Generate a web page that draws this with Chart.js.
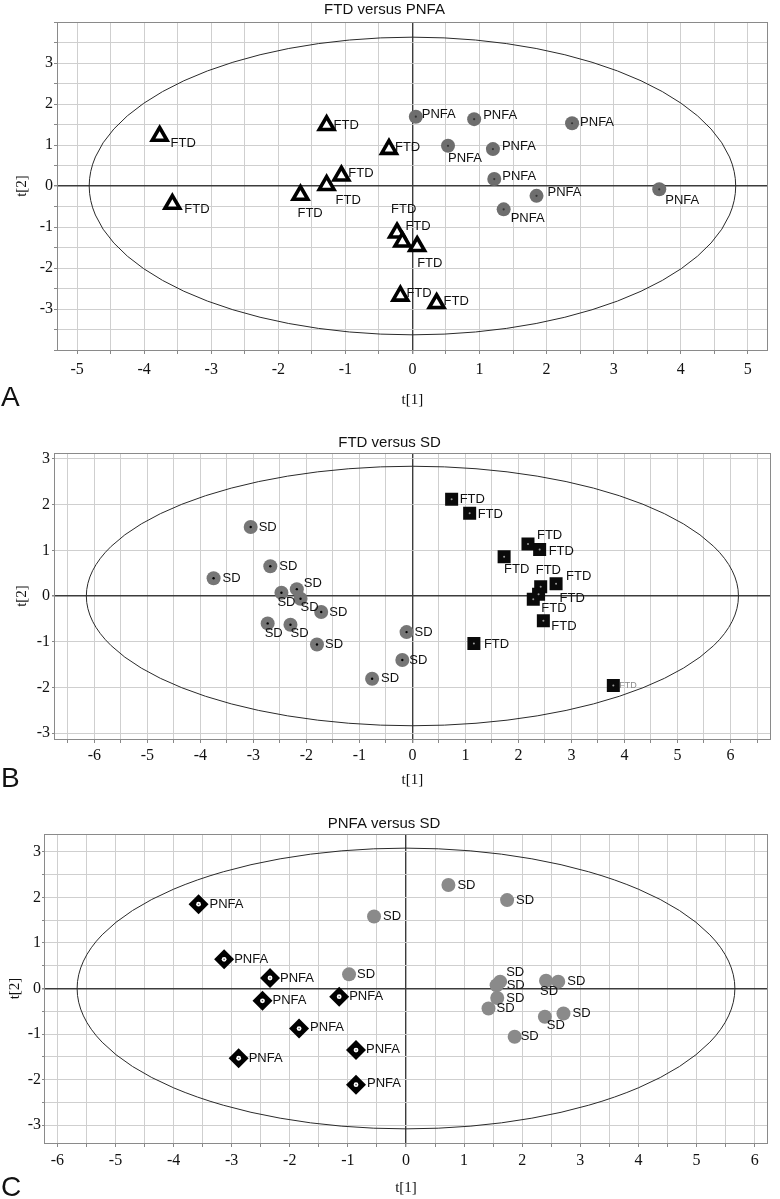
<!DOCTYPE html>
<html>
<head>
<meta charset="utf-8">
<title>FTD / PNFA / SD score plots</title>
<script src="https://cdn.jsdelivr.net/npm/chart.js@4.4.1/dist/chart.umd.min.js"></script>
<style>
  body { margin:0; background:#fff; }
  #page { position:relative; width:780px; height:1199px; overflow:hidden; }
  #page canvas { position:absolute; left:0; }
  .letter { position:absolute; left:1px; font-family:'Liberation Sans', Arial, sans-serif; font-size:28px; line-height:28px; color:#111; }
</style>
</head>
<body>
<div id="page">
  <canvas id="chartA" width="780" height="410" style="top:0px"></canvas>
  <canvas id="chartB" width="780" height="385" style="top:410px"></canvas>
  <canvas id="chartC" width="780" height="404" style="top:795px"></canvas>
  <div class="letter" style="top:383px">A</div>
  <div class="letter" style="top:764px">B</div>
  <div class="letter" style="top:1173px">C</div>
</div>
<script>
// ---- scores t[1], t[2] ----

// FTD versus PNFA
var ftdA_t1  = [-3.77, -3.58, -1.28, -1.06, -1.28, -1.67, -0.35, -0.23, -0.15, 0.07, -0.18, 0.36];
var ftdA_t2  = [1.22, -0.44, 1.48, 0.25, 0.02, -0.22, 0.90, -1.14, -1.36, -1.47, -2.68, -2.86];
var pnfaA_t1 = [0.05, 0.92, 2.38, 0.53, 1.20, 1.22, 1.85, 1.36, 3.68];
var pnfaA_t2 = [1.69, 1.63, 1.53, 0.98, 0.90, 0.17, -0.24, -0.57, -0.08];

// FTD versus SD
var sdB_t1  = [-3.05, -2.68, -3.75, -2.47, -2.18, -2.11, -1.72, -2.73, -2.30, -1.80, -0.11, -0.19, -0.76];
var sdB_t2  = [1.51, 0.65, 0.39, 0.07, 0.15, -0.06, -0.35, -0.60, -0.63, -1.06, -0.79, -1.40, -1.81];
var ftdB_t1 = [0.74, 1.08, 2.18, 2.40, 1.73, 2.71, 2.42, 2.38, 2.28, 2.47, 1.16, 3.79];
var ftdB_t2 = [2.12, 1.81, 1.14, 1.02, 0.86, 0.27, 0.20, 0.04, -0.07, -0.54, -1.04, -1.96];

// PNFA versus SD
var pnfaC_t1 = [-3.57, -3.13, -2.34, -2.47, -1.15, -1.84, -2.88, -0.86, -0.86];
var pnfaC_t2 = [1.85, 0.64, 0.23, -0.27, -0.18, -0.88, -1.53, -1.35, -2.11];
var sdC_t1   = [0.73, 1.74, -0.55, -0.98, 1.62, 1.56, 1.57, 1.42, 2.41, 2.62, 2.71, 2.39, 1.87];
var sdC_t2   = [2.27, 1.94, 1.58, 0.31, 0.15, 0.07, -0.21, -0.44, 0.17, 0.15, -0.55, -0.62, -1.06];

// tick labels
var xTicksA  = [-5, -4, -3, -2, -1, 0, 1, 2, 3, 4, 5];
var xTicksBC = [-6, -5, -4, -3, -2, -1, 0, 1, 2, 3, 4, 5, 6];
var yTicks   = [-3, -2, -1, 0, 1, 2, 3];

// Hotelling ellipse half axes [t1, t2]
var ellipseA = [4.82, 3.63];
var ellipseB = [6.15, 2.84];
var ellipseC = [5.66, 3.08];

// label placement next to each marker, [dx, dy] px
var ftdShiftA  = [[11,7],[12,5],[7,0],[7,-2],[9,15],[-3,18],[6,-2],[-6,-23],[3,-15],[0,17],[6,-2],[7,-2]];
var pnfaShiftA = [[6,-2],[9,-4],[8,-1],[0,13],[9,-3],[8,-3],[11,-3],[7,9],[6,11]];
var sdShiftB   = [[8,0],[9,0],[9,0],[-4,10],[7,-6],[0,9],[8,0],[-3,10],[0,9],[8,0],[8,0],[7,0],[9,0]];
var ftdShiftB  = [[8,0],[8,1],[9,-8],[9,2],[0,13],[10,-7],[-5,-16],[21,4],[8,9],[8,6],[10,1],[6,0]];
var pnfaShiftC = [[11,0],[10,0],[10,0],[10,0],[10,0],[11,-1],[10,0],[10,-1],[11,-1]];
var sdShiftC   = [[9,0],[9,0],[9,0],[8,0],[6,-9],[10,0],[9,0],[8,0],[-6,11],[9,0],[9,0],[2,9],[6,0]];

var SANS = "'Liberation Sans', Arial, sans-serif";
var SERIF = "'Liberation Serif', 'Times New Roman', serif";

function pts(t1, t2) {
  return t1.map(function(v, i){ return {x: v, y: t2[i]}; });
}

function gridColor(ctx) { return ctx.tick && ctx.tick.value === 0 ? '#3c3c3c' : '#cfcfcf'; }
function gridWidth(ctx) { return ctx.tick && ctx.tick.value === 0 ? 1.4 : 1; }

// box round the plot area
var framePlugin = {
  id: 'frame',
  beforeDatasetsDraw: function(chart) {
    var a = chart.chartArea, ctx = chart.ctx;
    ctx.save();
    ctx.strokeStyle = '#8a8a8a';
    ctx.lineWidth = 1;
    ctx.strokeRect(Math.round(a.left) + 0.5, Math.round(a.top) + 0.5,
                   Math.round(a.right - a.left) - 1, Math.round(a.bottom - a.top));
    ctx.restore();
  }
};

// confidence ellipse, centred on the origin
var ellipsePlugin = {
  id: 'ellipse',
  beforeDatasetsDraw: function(chart, args, opts) {
    var xs = chart.scales.x, ys = chart.scales.y, ctx = chart.ctx;
    var cx = xs.getPixelForValue(0), cy = ys.getPixelForValue(0);
    var rx = xs.getPixelForValue(opts.radii[0]) - cx;
    var ry = cy - ys.getPixelForValue(opts.radii[1]);
    ctx.save();
    ctx.beginPath();
    ctx.ellipse(cx, cy, rx, ry, 0, 0, Math.PI * 2);
    ctx.strokeStyle = '#2a2a2a';
    ctx.lineWidth = 1;
    ctx.stroke();
    ctx.restore();
  }
};

// group name written beside every marker
var labelPlugin = {
  id: 'pointLabels',
  afterDatasetsDraw: function(chart) {
    var ctx = chart.ctx;
    ctx.save();
    ctx.textAlign = 'left';
    ctx.textBaseline = 'middle';
    chart.data.datasets.forEach(function(ds, i) {
      if (!ds.pointLabel) return;
      chart.getDatasetMeta(i).data.forEach(function(pt, j) {
        var s = ds.labelShift ? ds.labelShift[j] : [9, 0];
        var small = ds.smallLabels && ds.smallLabels.indexOf(j) >= 0;
        ctx.font = (small ? '9px ' : '13px ') + SANS;
        ctx.fillStyle = small ? '#8a8a8a' : '#111';
        ctx.fillText(ds.pointLabel, pt.x + s[0], pt.y + s[1]);
      });
    });
    ctx.restore();
  }
};

function panel(id, options) {
  var defaults = {
    title: '',
    xMax: 5, yMax: 3, yStep: 0.5,
    xTicks: xTicksA,
    yAxisW: 57, padRight: 11,
    titleTop: 1, titleGap: 3,
    xAxisH: 60, xTickPad: 7, xTitlePad: 1,
    yTickLen: 3, yTickPad: 1, yTitlePad: 13,
    ellipse: [1, 1],
    datasets: []
  };
  var o = Object.assign({}, defaults, options);

  return new Chart(document.getElementById(id), {
    type: 'scatter',
    data: { datasets: o.datasets },
    options: {
      responsive: false,
      animation: false,
      events: [],
      layout: { padding: { left: 0, right: o.padRight, top: 0, bottom: 0 } },
      plugins: {
        legend: { display: false },
        tooltip: { enabled: false },
        title: {
          display: true, text: o.title, color: '#111',
          font: { family: SANS, size: 15, weight: 'normal' },
          padding: { top: o.titleTop, bottom: o.titleGap }
        },
        ellipse: { radii: o.ellipse }
      },
      scales: {
        x: {
          type: 'linear', min: -o.xMax, max: o.xMax,
          afterFit: function(s){ s.height = o.xAxisH; },
          border: { display: false },
          grid: { color: gridColor, lineWidth: gridWidth, tickLength: 4, tickColor: '#888' },
          ticks: {
            stepSize: 0.5, includeBounds: false, autoSkip: false, maxRotation: 0,
            padding: o.xTickPad, color: '#111', font: { family: SERIF, size: 16 },
            callback: function(v){ return o.xTicks.indexOf(v) >= 0 ? String(v) : ''; }
          },
          title: { display: true, text: 't[1]', color: '#111', font: { family: SERIF, size: 15 },
                   padding: { top: 0, bottom: o.xTitlePad } }
        },
        y: {
          type: 'linear', min: -o.yMax, max: o.yMax,
          afterFit: function(s){ s.width = o.yAxisW; },
          border: { display: false },
          grid: { color: gridColor, lineWidth: gridWidth, tickLength: o.yTickLen, tickColor: '#888' },
          ticks: {
            stepSize: o.yStep, includeBounds: false, autoSkip: false,
            padding: o.yTickPad, color: '#111', font: { family: SERIF, size: 16 },
            callback: function(v){ return yTicks.indexOf(v) >= 0 ? String(v) : ''; }
          },
          title: { display: true, text: 't[2]', color: '#111', font: { family: SERIF, size: 15 },
                   padding: { top: o.yTitlePad, bottom: 0 } }
        }
      }
    },
    plugins: [framePlugin, ellipsePlugin, labelPlugin]
  });
}

// A: FTD versus PNFA
panel('chartA', {
  title: 'FTD versus PNFA',
  xMax: 5.3, yMax: 4, yStep: 0.5, xTicks: xTicksA,
  yAxisW: 57, padRight: 11, titleTop: 1, titleGap: 3,
  xAxisH: 60, xTickPad: 6, xTitlePad: 1,
  yTickLen: 3, yTickPad: 1, yTitlePad: 13,
  ellipse: ellipseA,
  datasets: [
    { data: pts(pnfaA_t1, pnfaA_t2), pointStyle: 'circle', pointRadius: 1.1,
      pointBackgroundColor: '#333', pointBorderWidth: 0, order: 1 },
    { data: pts(ftdA_t1, ftdA_t2), pointStyle: 'triangle', pointRadius: 8.5,
      pointBackgroundColor: '#fff', pointBorderColor: '#000', pointBorderWidth: 3.6,
      pointLabel: 'FTD', labelShift: ftdShiftA, order: 2 },
    { data: pts(pnfaA_t1, pnfaA_t2), pointStyle: 'circle', pointRadius: 7,
      pointBackgroundColor: '#6e6e6e', pointBorderWidth: 0,
      pointLabel: 'PNFA', labelShift: pnfaShiftA, order: 2 }
  ]
});

// B: FTD versus SD
panel('chartB', {
  title: 'FTD versus SD',
  xMax: 6.76, yMax: 3.13, yStep: 1, xTicks: xTicksBC,
  yAxisW: 54, padRight: 1, titleTop: 24, titleGap: 1,
  xAxisH: 56, xTickPad: 3, xTitlePad: 6,
  yTickLen: 2, yTickPad: 2, yTitlePad: 13,
  ellipse: ellipseB,
  datasets: [
    { data: pts(sdB_t1, sdB_t2), pointStyle: 'circle', pointRadius: 1.2,
      pointBackgroundColor: '#000', pointBorderWidth: 0, order: 1 },
    { data: pts(ftdB_t1, ftdB_t2), pointStyle: 'circle', pointRadius: 1,
      pointBackgroundColor: '#9a9a9a', pointBorderWidth: 0, order: 1 },
    { data: pts(sdB_t1, sdB_t2), pointStyle: 'circle', pointRadius: 7,
      pointBackgroundColor: '#767676', pointBorderWidth: 0,
      pointLabel: 'SD', labelShift: sdShiftB, order: 2 },
    { data: pts(ftdB_t1, ftdB_t2), pointStyle: 'rect', pointRadius: 9.2,
      pointBackgroundColor: '#0a0a0a', pointBorderWidth: 0,
      pointLabel: 'FTD', labelShift: ftdShiftB, smallLabels: [11], order: 2 }
  ]
});

// C: PNFA versus SD
panel('chartC', {
  title: 'PNFA versus SD',
  xMax: 6.23, yMax: 3.39, yStep: 0.5, xTicks: xTicksBC,
  yAxisW: 44, padRight: 12, titleTop: 20, titleGap: 1,
  xAxisH: 56, xTickPad: 4, xTitlePad: 2,
  yTickLen: 2, yTickPad: 1, yTitlePad: 6,
  ellipse: ellipseC,
  datasets: [
    { data: pts(pnfaC_t1, pnfaC_t2), pointStyle: 'circle', pointRadius: 0.8,
      pointBackgroundColor: '#555', pointBorderWidth: 0, order: 0 },
    { data: pts(pnfaC_t1, pnfaC_t2), pointStyle: 'circle', pointRadius: 2.4,
      pointBackgroundColor: '#fff', pointBorderWidth: 0, order: 1 },
    { data: pts(pnfaC_t1, pnfaC_t2), pointStyle: 'rectRot', pointRadius: 10,
      pointBackgroundColor: '#000', pointBorderWidth: 0,
      pointLabel: 'PNFA', labelShift: pnfaShiftC, order: 2 },
    { data: pts(sdC_t1, sdC_t2), pointStyle: 'circle', pointRadius: 7,
      pointBackgroundColor: '#8a8a8a', pointBorderWidth: 0,
      pointLabel: 'SD', labelShift: sdShiftC, order: 2 }
  ]
});
</script>
</body>
</html>
